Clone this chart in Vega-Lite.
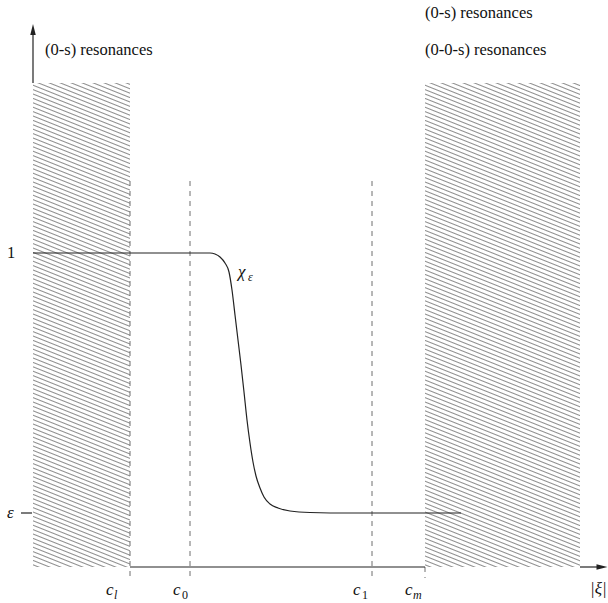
{
  "$schema": "https://vega.github.io/schema/vega-lite/v6.json",
  "width": 608,
  "height": 603,
  "autosize": {"type": "fit", "contains": "padding"},
  "padding": 0,
  "background": "white",
  "config": {"view": {"stroke": null}},
  "datasets": {
    "hatch": [
      {"region": "L", "x": 0, "x2": 97, "y": 0, "y2": 44},
      {"region": "L", "x": 0, "x2": 97, "y": 44, "y2": 88},
      {"region": "L", "x": 0, "x2": 97, "y": 88, "y2": 132},
      {"region": "L", "x": 0, "x2": 97, "y": 132, "y2": 176},
      {"region": "L", "x": 0, "x2": 97, "y": 176, "y2": 220},
      {"region": "L", "x": 0, "x2": 97, "y": 220, "y2": 264},
      {"region": "L", "x": 0, "x2": 97, "y": 264, "y2": 308},
      {"region": "L", "x": 0, "x2": 97, "y": 308, "y2": 352},
      {"region": "L", "x": 0, "x2": 97, "y": 352, "y2": 396},
      {"region": "L", "x": 0, "x2": 97, "y": 396, "y2": 440},
      {"region": "L", "x": 0, "x2": 97, "y": 440, "y2": 484},
      {"region": "R", "x": 392, "x2": 547, "y": 0, "y2": 44},
      {"region": "R", "x": 392, "x2": 547, "y": 44, "y2": 88},
      {"region": "R", "x": 392, "x2": 547, "y": 88, "y2": 132},
      {"region": "R", "x": 392, "x2": 547, "y": 132, "y2": 176},
      {"region": "R", "x": 392, "x2": 547, "y": 176, "y2": 220},
      {"region": "R", "x": 392, "x2": 547, "y": 220, "y2": 264},
      {"region": "R", "x": 392, "x2": 547, "y": 264, "y2": 308},
      {"region": "R", "x": 392, "x2": 547, "y": 308, "y2": 352},
      {"region": "R", "x": 392, "x2": 547, "y": 352, "y2": 396},
      {"region": "R", "x": 392, "x2": 547, "y": 396, "y2": 440},
      {"region": "R", "x": 392, "x2": 547, "y": 440, "y2": 484}
    ],
    "dashes": [
      {"name": "c_l", "x": 97, "y": 386, "y2": -11},
      {"name": "c_0", "x": 157, "y": 386, "y2": -11},
      {"name": "c_1", "x": 339, "y": 386, "y2": -11},
      {"name": "c_m", "x": 392, "y": 0, "y2": -11}
    ],
    "axes": [
      {"part": "y axis", "x": 0, "x2": 0, "y": 484, "y2": 533},
      {"part": "x axis a", "x": 97, "x2": 392, "y": 0, "y2": 0},
      {"part": "x axis b", "x": 547, "x2": 566, "y": 0, "y2": 0},
      {"part": "eps tick", "x": -12, "x2": -1, "y": 54, "y2": 54}
    ],
    "arrows": [
      {"dir": "up", "x": 0, "y": 537.5},
      {"dir": "right", "x": 569, "y": 0}
    ],
    "curve": [
      {"x": 0, "y": 314},
      {"x": 177, "y": 314},
      {"x": 182, "y": 313},
      {"x": 187, "y": 310},
      {"x": 192, "y": 304},
      {"x": 196, "y": 295},
      {"x": 199, "y": 277},
      {"x": 202, "y": 252},
      {"x": 205, "y": 227},
      {"x": 208, "y": 202},
      {"x": 211, "y": 175},
      {"x": 214, "y": 147},
      {"x": 217, "y": 124},
      {"x": 220, "y": 105},
      {"x": 223, "y": 91},
      {"x": 227, "y": 79},
      {"x": 231, "y": 70},
      {"x": 237, "y": 63},
      {"x": 245, "y": 59},
      {"x": 257, "y": 56},
      {"x": 277, "y": 54.5},
      {"x": 317, "y": 54},
      {"x": 428, "y": 54}
    ],
    "romanText": [
      {"t": "(0-s) resonances", "x": 12, "y": 512},
      {"t": "(0-s) resonances", "x": 392, "y": 549},
      {"t": "(0-0-s) resonances", "x": 392, "y": 512},
      {"t": "1", "x": -26, "y": 309}
    ],
    "italicText": [
      {"t": "ε", "x": -26, "y": 49},
      {"t": "χ", "x": 205, "y": 290},
      {"t": "c", "x": 73, "y": -28},
      {"t": "c", "x": 140, "y": -28},
      {"t": "c", "x": 320, "y": -28},
      {"t": "c", "x": 372, "y": -28},
      {"t": "|ξ|", "x": 557, "y": -27}
    ],
    "italicSub": [
      {"t": "ε", "x": 215, "y": 286},
      {"t": "l", "x": 81, "y": -32},
      {"t": "m", "x": 380, "y": -32}
    ],
    "romanSub": [
      {"t": "0", "x": 149, "y": -32},
      {"t": "1", "x": 329, "y": -32}
    ]
  },
  "layer": [
    {
      "data": {"name": "hatch"},
      "transform": [{"filter": "datum.region === 'L'"}],
      "mark": {
        "type": "rect",
        "strokeWidth": 0,
        "fill": {
          "gradient": "linear",
          "x1": 1, "y1": 0, "x2": 0.0665, "y2": 1.05861,
          "stops": [
            {"offset": 0.0036, "color": "#ffffff"}, {"offset": 0.0169, "color": "#8c8c8c"}, {"offset": 0.0302, "color": "#ffffff"},
            {"offset": 0.0568, "color": "#ffffff"}, {"offset": 0.0700, "color": "#8c8c8c"}, {"offset": 0.0833, "color": "#ffffff"},
            {"offset": 0.1099, "color": "#ffffff"}, {"offset": 0.1232, "color": "#8c8c8c"}, {"offset": 0.1365, "color": "#ffffff"},
            {"offset": 0.1630, "color": "#ffffff"}, {"offset": 0.1763, "color": "#8c8c8c"}, {"offset": 0.1896, "color": "#ffffff"},
            {"offset": 0.2162, "color": "#ffffff"}, {"offset": 0.2295, "color": "#8c8c8c"}, {"offset": 0.2428, "color": "#ffffff"},
            {"offset": 0.2693, "color": "#ffffff"}, {"offset": 0.2826, "color": "#8c8c8c"}, {"offset": 0.2959, "color": "#ffffff"},
            {"offset": 0.3225, "color": "#ffffff"}, {"offset": 0.3357, "color": "#8c8c8c"}, {"offset": 0.3490, "color": "#ffffff"},
            {"offset": 0.3756, "color": "#ffffff"}, {"offset": 0.3889, "color": "#8c8c8c"}, {"offset": 0.4022, "color": "#ffffff"},
            {"offset": 0.4287, "color": "#ffffff"}, {"offset": 0.4420, "color": "#8c8c8c"}, {"offset": 0.4553, "color": "#ffffff"},
            {"offset": 0.4819, "color": "#ffffff"}, {"offset": 0.4952, "color": "#8c8c8c"}, {"offset": 0.5085, "color": "#ffffff"},
            {"offset": 0.5350, "color": "#ffffff"}, {"offset": 0.5483, "color": "#8c8c8c"}, {"offset": 0.5616, "color": "#ffffff"},
            {"offset": 0.5882, "color": "#ffffff"}, {"offset": 0.6014, "color": "#8c8c8c"}, {"offset": 0.6147, "color": "#ffffff"},
            {"offset": 0.6413, "color": "#ffffff"}, {"offset": 0.6546, "color": "#8c8c8c"}, {"offset": 0.6679, "color": "#ffffff"},
            {"offset": 0.6944, "color": "#ffffff"}, {"offset": 0.7077, "color": "#8c8c8c"}, {"offset": 0.7210, "color": "#ffffff"},
            {"offset": 0.7476, "color": "#ffffff"}, {"offset": 0.7609, "color": "#8c8c8c"}, {"offset": 0.7742, "color": "#ffffff"},
            {"offset": 0.8007, "color": "#ffffff"}, {"offset": 0.8140, "color": "#8c8c8c"}, {"offset": 0.8273, "color": "#ffffff"},
            {"offset": 0.8539, "color": "#ffffff"}, {"offset": 0.8672, "color": "#8c8c8c"}, {"offset": 0.8804, "color": "#ffffff"},
            {"offset": 0.9070, "color": "#ffffff"}, {"offset": 0.9203, "color": "#8c8c8c"}, {"offset": 0.9336, "color": "#ffffff"},
            {"offset": 0.9601, "color": "#ffffff"}, {"offset": 0.9734, "color": "#8c8c8c"}, {"offset": 0.9867, "color": "#ffffff"}
          ]
        }
      },
      "encoding": {
        "x": {"field": "x", "type": "quantitative", "scale": {"domain": [-33, 575], "nice": false, "zero": false}, "axis": null},
        "x2": {"field": "x2"},
        "y": {"field": "y", "type": "quantitative", "scale": {"domain": [-36, 567], "nice": false, "zero": false}, "axis": null},
        "y2": {"field": "y2"}
      }
    },
    {
      "data": {"name": "hatch"},
      "transform": [{"filter": "datum.region === 'R'"}],
      "mark": {
        "type": "rect",
        "strokeWidth": 0,
        "fill": {
          "gradient": "linear",
          "x1": 1, "y1": 0, "x2": -0.13702, "y2": 0.80692,
          "stops": [
            {"offset": 0.0142, "color": "#ffffff"}, {"offset": 0.0245, "color": "#8c8c8c"}, {"offset": 0.0349, "color": "#ffffff"},
            {"offset": 0.0557, "color": "#ffffff"}, {"offset": 0.0660, "color": "#8c8c8c"}, {"offset": 0.0764, "color": "#ffffff"},
            {"offset": 0.0972, "color": "#ffffff"}, {"offset": 0.1075, "color": "#8c8c8c"}, {"offset": 0.1179, "color": "#ffffff"},
            {"offset": 0.1387, "color": "#ffffff"}, {"offset": 0.1491, "color": "#8c8c8c"}, {"offset": 0.1594, "color": "#ffffff"},
            {"offset": 0.1802, "color": "#ffffff"}, {"offset": 0.1906, "color": "#8c8c8c"}, {"offset": 0.2009, "color": "#ffffff"},
            {"offset": 0.2217, "color": "#ffffff"}, {"offset": 0.2321, "color": "#8c8c8c"}, {"offset": 0.2425, "color": "#ffffff"},
            {"offset": 0.2632, "color": "#ffffff"}, {"offset": 0.2736, "color": "#8c8c8c"}, {"offset": 0.2840, "color": "#ffffff"},
            {"offset": 0.3047, "color": "#ffffff"}, {"offset": 0.3151, "color": "#8c8c8c"}, {"offset": 0.3255, "color": "#ffffff"},
            {"offset": 0.3462, "color": "#ffffff"}, {"offset": 0.3566, "color": "#8c8c8c"}, {"offset": 0.3670, "color": "#ffffff"},
            {"offset": 0.3877, "color": "#ffffff"}, {"offset": 0.3981, "color": "#8c8c8c"}, {"offset": 0.4085, "color": "#ffffff"},
            {"offset": 0.4292, "color": "#ffffff"}, {"offset": 0.4396, "color": "#8c8c8c"}, {"offset": 0.4500, "color": "#ffffff"},
            {"offset": 0.4708, "color": "#ffffff"}, {"offset": 0.4811, "color": "#8c8c8c"}, {"offset": 0.4915, "color": "#ffffff"},
            {"offset": 0.5123, "color": "#ffffff"}, {"offset": 0.5226, "color": "#8c8c8c"}, {"offset": 0.5330, "color": "#ffffff"},
            {"offset": 0.5538, "color": "#ffffff"}, {"offset": 0.5642, "color": "#8c8c8c"}, {"offset": 0.5745, "color": "#ffffff"},
            {"offset": 0.5953, "color": "#ffffff"}, {"offset": 0.6057, "color": "#8c8c8c"}, {"offset": 0.6160, "color": "#ffffff"},
            {"offset": 0.6368, "color": "#ffffff"}, {"offset": 0.6472, "color": "#8c8c8c"}, {"offset": 0.6575, "color": "#ffffff"},
            {"offset": 0.6783, "color": "#ffffff"}, {"offset": 0.6887, "color": "#8c8c8c"}, {"offset": 0.6991, "color": "#ffffff"},
            {"offset": 0.7198, "color": "#ffffff"}, {"offset": 0.7302, "color": "#8c8c8c"}, {"offset": 0.7406, "color": "#ffffff"},
            {"offset": 0.7613, "color": "#ffffff"}, {"offset": 0.7717, "color": "#8c8c8c"}, {"offset": 0.7821, "color": "#ffffff"},
            {"offset": 0.8028, "color": "#ffffff"}, {"offset": 0.8132, "color": "#8c8c8c"}, {"offset": 0.8236, "color": "#ffffff"},
            {"offset": 0.8443, "color": "#ffffff"}, {"offset": 0.8547, "color": "#8c8c8c"}, {"offset": 0.8651, "color": "#ffffff"},
            {"offset": 0.8858, "color": "#ffffff"}, {"offset": 0.8962, "color": "#8c8c8c"}, {"offset": 0.9066, "color": "#ffffff"},
            {"offset": 0.9274, "color": "#ffffff"}, {"offset": 0.9377, "color": "#8c8c8c"}, {"offset": 0.9481, "color": "#ffffff"},
            {"offset": 0.9689, "color": "#ffffff"}, {"offset": 0.9792, "color": "#8c8c8c"}, {"offset": 0.9896, "color": "#ffffff"}
          ]
        }
      },
      "encoding": {
        "x": {"field": "x", "type": "quantitative", "scale": {"domain": [-33, 575], "nice": false, "zero": false}, "axis": null},
        "x2": {"field": "x2"},
        "y": {"field": "y", "type": "quantitative", "scale": {"domain": [-36, 567], "nice": false, "zero": false}, "axis": null},
        "y2": {"field": "y2"}
      }
    },
    {
      "data": {"name": "dashes"},
      "mark": {"type": "rule", "color": "#6e6e6e", "strokeWidth": 1, "strokeDash": [5, 5]},
      "encoding": {
        "x": {"field": "x", "type": "quantitative", "scale": {"domain": [-33, 575], "nice": false, "zero": false}, "axis": null},
        "y": {"field": "y", "type": "quantitative", "scale": {"domain": [-36, 567], "nice": false, "zero": false}, "axis": null},
        "y2": {"field": "y2"}
      }
    },
    {
      "data": {"name": "axes"},
      "mark": {"type": "rule", "color": "#222222", "strokeWidth": 1.2},
      "encoding": {
        "x": {"field": "x", "type": "quantitative", "scale": {"domain": [-33, 575], "nice": false, "zero": false}, "axis": null},
        "x2": {"field": "x2"},
        "y": {"field": "y", "type": "quantitative", "scale": {"domain": [-36, 567], "nice": false, "zero": false}, "axis": null},
        "y2": {"field": "y2"}
      }
    },
    {
      "data": {"name": "arrows"},
      "mark": {"type": "point", "filled": true, "size": 121, "color": "#222222", "opacity": 1, "strokeWidth": 0},
      "encoding": {
        "x": {"field": "x", "type": "quantitative", "scale": {"domain": [-33, 575], "nice": false, "zero": false}, "axis": null},
        "y": {"field": "y", "type": "quantitative", "scale": {"domain": [-36, 567], "nice": false, "zero": false}, "axis": null},
        "shape": {"field": "dir", "type": "nominal", "scale": {"domain": ["up", "right"], "range": ["M0,-1L0.5,1L-0.5,1Z", "M1,0L-1,0.5L-1,-0.5Z"]}, "legend": null}
      }
    },
    {
      "data": {"name": "curve"},
      "mark": {"type": "line", "color": "#222222", "strokeWidth": 1.2, "interpolate": "monotone"},
      "encoding": {
        "x": {"field": "x", "type": "quantitative", "scale": {"domain": [-33, 575], "nice": false, "zero": false}, "axis": null},
        "y": {"field": "y", "type": "quantitative", "scale": {"domain": [-36, 567], "nice": false, "zero": false}, "axis": null}
      }
    },
    {
      "data": {"name": "romanText"},
      "mark": {"type": "text", "align": "left", "baseline": "alphabetic", "font": "'Liberation Serif', 'DejaVu Serif', serif", "fontSize": 16.5, "color": "#111111"},
      "encoding": {
        "x": {"field": "x", "type": "quantitative", "scale": {"domain": [-33, 575], "nice": false, "zero": false}, "axis": null},
        "y": {"field": "y", "type": "quantitative", "scale": {"domain": [-36, 567], "nice": false, "zero": false}, "axis": null},
        "text": {"field": "t"}
      }
    },
    {
      "data": {"name": "italicText"},
      "mark": {"type": "text", "align": "left", "baseline": "alphabetic", "font": "'Liberation Serif', 'DejaVu Serif', serif", "fontStyle": "italic", "fontSize": 17, "color": "#111111"},
      "encoding": {
        "x": {"field": "x", "type": "quantitative", "scale": {"domain": [-33, 575], "nice": false, "zero": false}, "axis": null},
        "y": {"field": "y", "type": "quantitative", "scale": {"domain": [-36, 567], "nice": false, "zero": false}, "axis": null},
        "text": {"field": "t"}
      }
    },
    {
      "data": {"name": "italicSub"},
      "mark": {"type": "text", "align": "left", "baseline": "alphabetic", "font": "'Liberation Serif', 'DejaVu Serif', serif", "fontStyle": "italic", "fontSize": 12, "color": "#111111"},
      "encoding": {
        "x": {"field": "x", "type": "quantitative", "scale": {"domain": [-33, 575], "nice": false, "zero": false}, "axis": null},
        "y": {"field": "y", "type": "quantitative", "scale": {"domain": [-36, 567], "nice": false, "zero": false}, "axis": null},
        "text": {"field": "t"}
      }
    },
    {
      "data": {"name": "romanSub"},
      "mark": {"type": "text", "align": "left", "baseline": "alphabetic", "font": "'Liberation Serif', 'DejaVu Serif', serif", "fontSize": 12, "color": "#111111"},
      "encoding": {
        "x": {"field": "x", "type": "quantitative", "scale": {"domain": [-33, 575], "nice": false, "zero": false}, "axis": null},
        "y": {"field": "y", "type": "quantitative", "scale": {"domain": [-36, 567], "nice": false, "zero": false}, "axis": null},
        "text": {"field": "t"}
      }
    }
  ]
}
